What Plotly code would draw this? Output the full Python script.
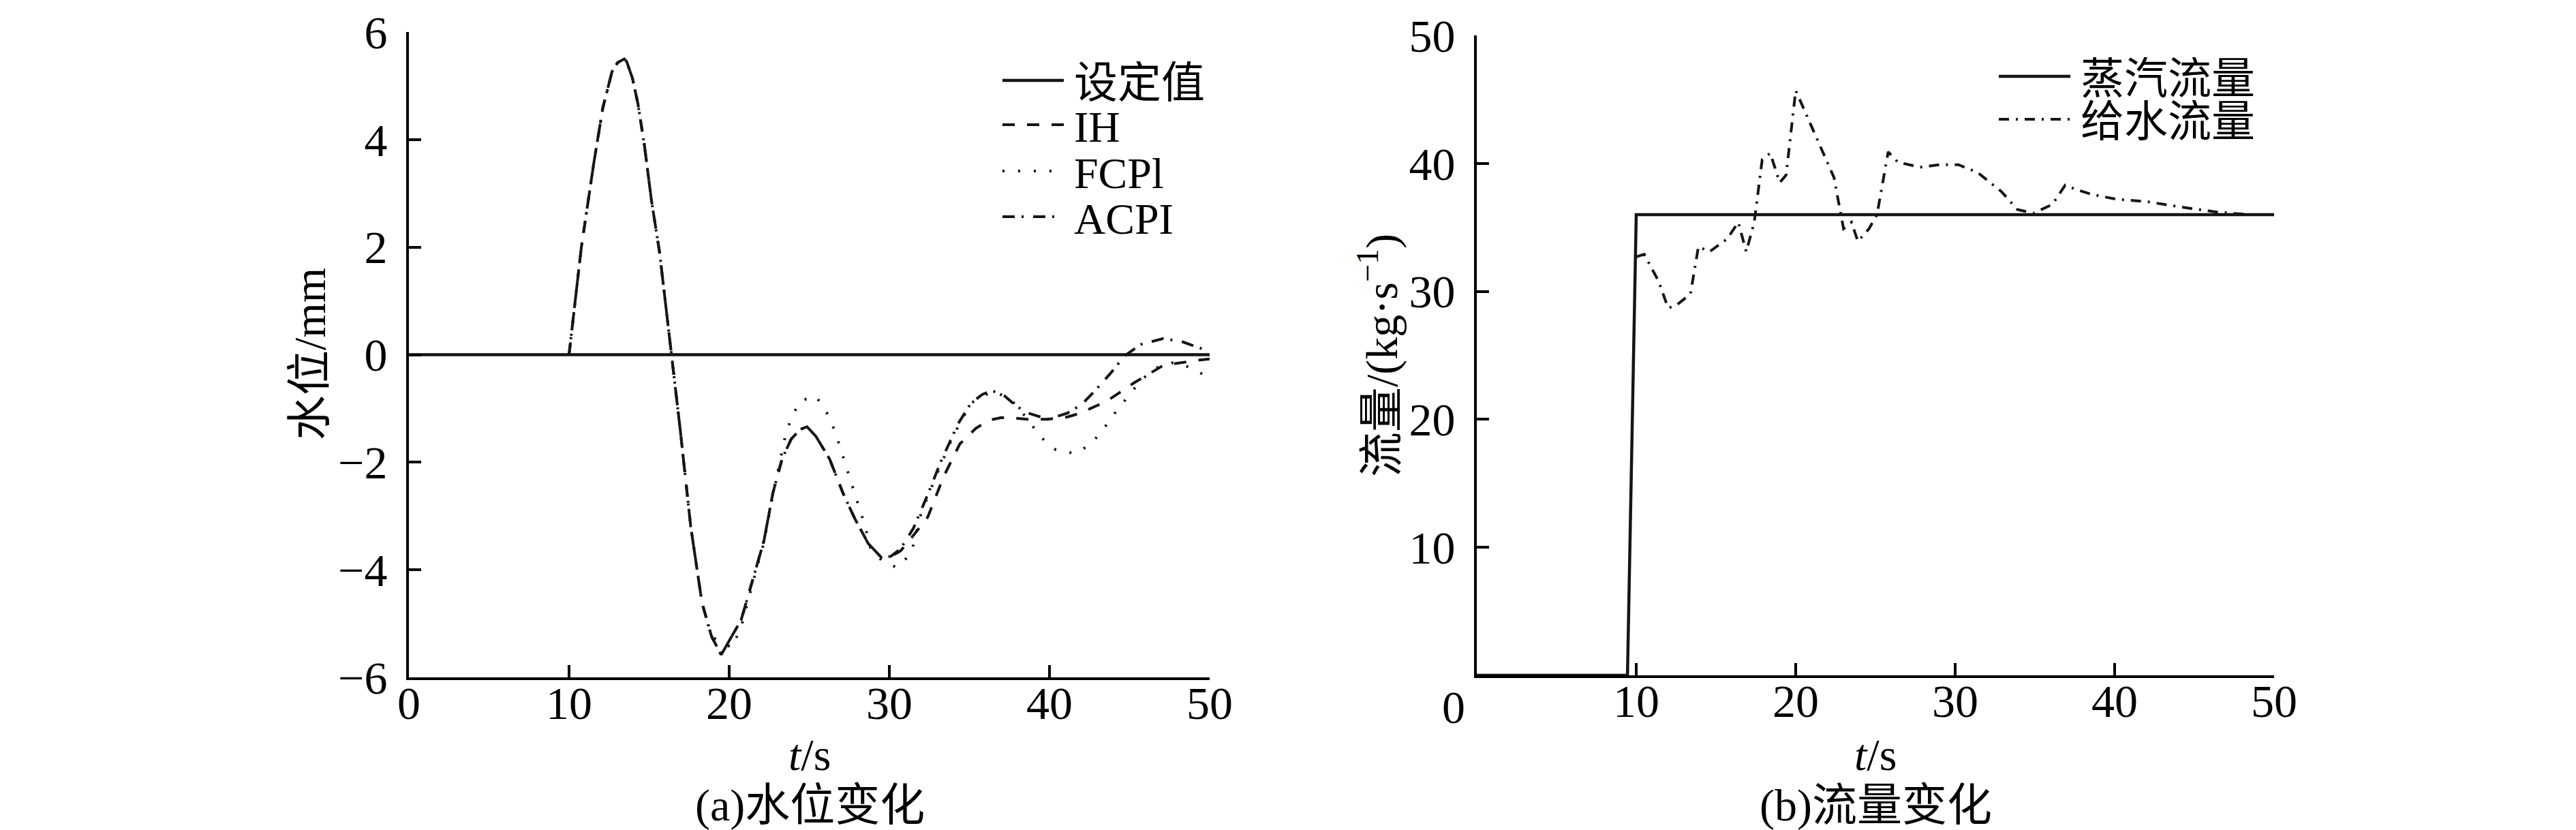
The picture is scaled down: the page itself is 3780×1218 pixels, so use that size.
import plotly.graph_objects as go

# ---------------- data: (a) water level ----------------
t_set = [0, 50]
v_set = [0, 0]

t_common = [10.0, 10.4, 10.77, 11.55, 12.11, 12.68, 13.03, 13.45, 13.6, 13.96, 14.3, 14.7, 15.15, 15.65, 16.4, 16.93, 17.6, 18.3, 18.9]
v_common = [0.0, 1.05, 2.0, 3.57, 4.59, 5.26, 5.43, 5.5, 5.45, 5.14, 4.67, 3.91, 2.86, 1.91, 0.0, -1.36, -3.2, -4.61, -5.24]

t_ih = t_common + [19.5, 20.75, 21.6, 22.17, 22.73, 23.3, 23.87, 24.43, 24.86, 25.42, 26.27, 27.1, 27.83, 28.68, 29.5, 30.1,
                   30.7, 31.4, 32.4, 33.4, 34.4, 35.4, 36.2, 37.0, 37.9, 38.6, 39.9, 41.1, 41.9, 43.6, 45.3, 47.1, 49.3, 50.0]
v_ih = v_common + [-5.58, -4.93, -4.04, -3.46, -2.57, -1.94, -1.57, -1.39, -1.34, -1.52, -1.94, -2.57, -3.04, -3.51, -3.77, -3.75,
                   -3.65, -3.4, -3.02, -2.26, -1.66, -1.37, -1.22, -1.17, -1.18, -1.2, -1.2, -1.16, -1.09, -0.86, -0.52, -0.2, -0.1, -0.08]

t_fcpi = t_common + [19.5, 20.2, 20.8, 21.6, 22.17, 22.73, 23.5, 23.87, 24.43, 25.42, 26.13, 26.63, 26.98, 27.34, 27.7, 28.1, 28.47,
                     28.82, 29.6, 30.5, 31.37, 32.0, 33.0, 34.0, 35.1, 36.4, 37.5, 38.7, 39.4, 40.4, 41.6, 42.6, 43.4, 44.1, 44.9,
                     45.7, 46.6, 47.8, 48.9, 50.0]
v_fcpi = v_common + [-5.35, -5.45, -5.0, -4.1, -3.5, -2.6, -1.52, -1.18, -0.86, -0.77, -1.1, -1.44, -1.78, -2.13, -2.47, -2.83, -3.17,
                     -3.59, -3.85, -3.96, -3.69, -2.93, -2.2, -1.5, -0.9, -0.68, -0.8, -1.22, -1.52, -1.77, -1.84, -1.66, -1.37, -1.08, -0.78,
                     -0.48, -0.25, -0.14, -0.25, -0.44]

t_acpi = t_common + [19.5, 20.75, 21.6, 22.17, 22.73, 23.3, 23.87, 24.43, 24.86, 25.42, 26.27, 27.1, 27.83, 28.68, 29.5, 30.1,
                     30.7, 31.5, 32.4, 33.2, 34.3, 35.1, 35.8, 36.4, 37.1, 37.9, 38.6, 39.9, 41.1, 42.0, 42.9, 43.8, 44.7, 45.7,
                     47.1, 48.3, 50.0]
v_acpi = v_common + [-5.58, -4.93, -4.04, -3.46, -2.57, -1.94, -1.57, -1.39, -1.34, -1.52, -1.94, -2.57, -3.04, -3.51, -3.77, -3.75,
                     -3.61, -3.23, -2.6, -2.0, -1.28, -0.9, -0.74, -0.67, -0.74, -0.95, -1.08, -1.2, -1.09, -0.93, -0.65, -0.35, -0.02, 0.19,
                     0.30, 0.24, 0.06]

# ---------------- data: (b) flow ----------------
t_steam = [0, 9.45, 10.0, 50]
v_steam = [0, 0, 36, 36]

t_feed = [10.0, 10.5, 11.4, 12.0, 12.5, 13.4, 13.9, 14.6, 15.7, 16.4, 16.9, 17.4, 17.9, 18.4, 19.0, 19.4, 20.0, 20.5, 21.3, 22.4,
          23.0, 23.5, 23.9, 24.6, 25.1, 25.8, 26.4, 27.8, 29.0, 30.2, 31.4, 32.9, 33.9, 34.9, 36.1, 36.9, 37.5, 38.5, 40.1,
          42.1, 44.1, 46.4, 48.4, 50.0]
v_feed = [32.7, 32.9, 30.8, 28.7, 28.9, 29.8, 33.5, 33.1, 34.1, 35.4, 33.1, 35.4, 40.3, 40.8, 38.5, 39.1, 45.7, 44.3, 42.0, 38.9,
          34.9, 35.4, 33.9, 34.9, 36.0, 40.9, 40.1, 39.7, 39.9, 39.9, 39.3, 37.8, 36.4, 36.1, 36.8, 38.3, 38.0, 37.6, 37.2,
          37.0, 36.6, 36.2, 36.0, 36.0]

x_ticks = [0, 10, 20, 30, 40, 50]
x_ticks_b = [10, 20, 30, 40, 50]
y_ticks_a = [-6, -4, -2, 0, 2, 4, 6]
y_ticks_b = [10, 20, 30, 40, 50]

legend_a = ["设定值", "IH", "FCPl", "ACPI"]
legend_b = ["蒸汽流量", "给水流量"]

# ---------------- style ----------------
W, H = 3780, 1218
FONT = "Liberation Serif, 'Times New Roman', 'Noto Sans CJK SC', serif"
INK = "#151515"
DASH_IH = "18px,18px"
DASH_FCPI = "3px,20px"
DASH_ACPI = "18px,10px,3px,14px"
DASH_FEED = "15px,10px,3px,10px"
LW = 4

fig = go.Figure()

def line(x, y, dash, xa="x", ya="y", w=LW):
    fig.add_trace(go.Scatter(x=x, y=y, mode="lines", xaxis=xa, yaxis=ya, showlegend=False,
                             line=dict(color=INK, width=w, dash=dash), hoverinfo="skip"))

line(t_set, v_set, "solid", w=4.5)
line(t_ih, v_ih, DASH_IH)
line(t_fcpi, v_fcpi, DASH_FCPI)
line(t_acpi, v_acpi, DASH_ACPI)
line(t_steam, v_steam, "solid", "x2", "y2", w=4.5)
line(t_feed, v_feed, DASH_FEED, "x2", "y2")

def px(xp):
    return xp / W

def py(yp):
    return 1 - yp / H

axis_common = dict(showline=True, linecolor="black", linewidth=4, ticks="inside", ticklen=18, tickwidth=4,
                   tickcolor="black", showgrid=False, zeroline=False, mirror=False, automargin=False,
                   tickfont=dict(family=FONT, size=68, color="black"))

fig.update_layout(
    template="none",
    width=W, height=H, autosize=False,
    margin=dict(l=0, r=0, t=0, b=0, pad=0),
    paper_bgcolor="white", plot_bgcolor="white",
    showlegend=False,
    xaxis=dict(domain=[px(592), px(1767)], range=[0, 50], tickvals=x_ticks, ticklabelstandoff=-25,
               anchor="y", **axis_common),
    yaxis=dict(domain=[py(986), py(39)], range=[-6, 6], tickvals=y_ticks_a,
               ticktext=[("−" + str(-v)) if v < 0 else str(v) for v in y_ticks_a], ticklabelstandoff=14,
               anchor="x", **axis_common),
    xaxis2=dict(domain=[px(2159), px(3329)], range=[0, 50], tickvals=x_ticks_b, ticklabelstandoff=-25,
                anchor="y2", **axis_common),
    yaxis2=dict(domain=[py(983), py(44)], range=[0, 50], tickvals=y_ticks_b, ticklabelstandoff=14,
                anchor="x2", **axis_common),
)

ann = []
def text(x, y, s, size=66, xanchor="center", angle=0, h=None):
    d = dict(x=x, y=y, xref="paper", yref="paper", text=s, showarrow=False, xanchor=xanchor,
             yanchor="middle", textangle=angle, font=dict(family=FONT, size=size, color="black"))
    if h is not None:
        d["height"] = h
        d["borderpad"] = 0
    ann.append(d)

# origin label of (b)
text(px(2125), py(1030), "0", size=68)
# axis titles
text(px(1180), py(1099), "<i>t</i>/s")
text(px(2744), py(1099), "<i>t</i>/s")
text(px(1180), py(1174), "(a)水位变化")
text(px(2744), py(1174), "(b)流量变化")
text(px(447), py(512), "水位/mm", angle=-90)
text(px(2015), py(513), "流量/(kg·s<sup>−1</sup>)", angle=-90)

# manual legends
shapes = []
def leg(x0, x1, y, dash, label, w=LW):
    shapes.append(dict(type="line", xref="paper", yref="paper", x0=px(x0), x1=px(x1), y0=py(y), y1=py(y),
                       line=dict(color=INK, width=w, dash=dash)))
    text(px(x1 + 14), py(y + 3), label, size=64, xanchor="left", h=62)

leg_y_a = [110, 175, 243, 310]
for yy, d, lab in zip(leg_y_a, ["solid", DASH_IH, DASH_FCPI, DASH_ACPI], legend_a):
    leg(1463, 1553, yy, d, lab, w=4.5 if d == "solid" else LW)

leg_y_b = [104, 167]
for yy, d, lab in zip(leg_y_b, ["solid", DASH_FEED], legend_b):
    leg(2925, 3030, yy, d, lab, w=4.5 if d == "solid" else LW)

fig.update_layout(annotations=ann, shapes=shapes)
fig.write_html("out.html")
